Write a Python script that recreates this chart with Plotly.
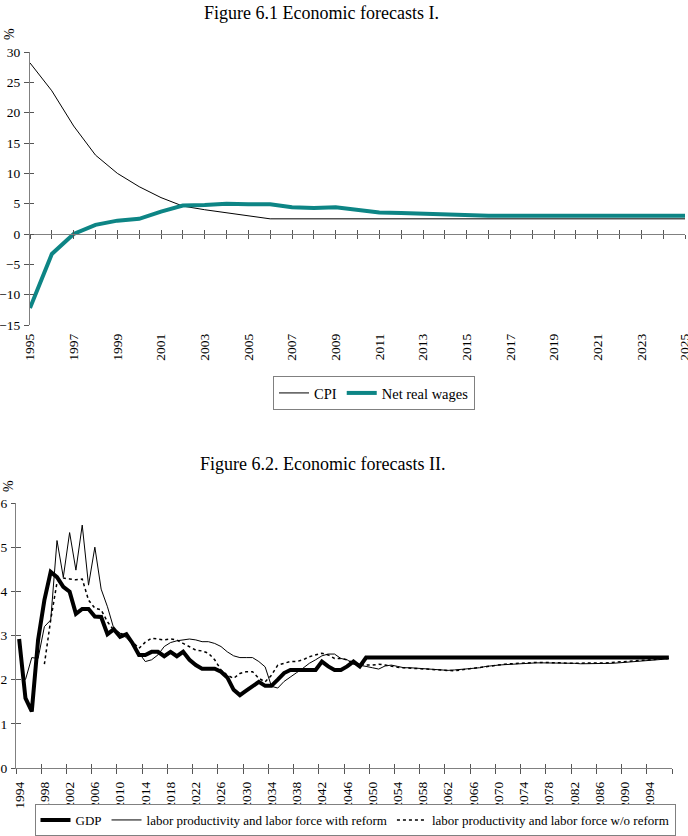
import plotly.graph_objects as go

# ---------------- data: Figure 6.1 ----------------
years1 = list(range(1995, 2026))
cpi = [28.2, 23.6, 17.8, 13.0, 10.0, 7.8, 6.0, 4.6, 4.0, 3.5,
       3.0, 2.5, 2.5, 2.5, 2.5, 2.5, 2.5, 2.5, 2.5, 2.5,
       2.5, 2.5, 2.5, 2.5, 2.5, 2.5, 2.5, 2.5, 2.5, 2.5, 2.5]
net_real_wages = [-12.2, -3.3, 0.0, 1.5, 2.2, 2.5, 3.7, 4.7, 4.8, 5.0,
                  4.9, 4.9, 4.4, 4.3, 4.4, 3.9, 3.55, 3.45, 3.35, 3.15,
                  3.0, 3.0, 3.0, 3.0, 3.0, 3.0, 3.0, 3.0, 3.0, 3.0, 3.0]
x1_labels = [str(y) for y in years1[::2]]
y1_ticks = [-15, -10, -5, 0, 5, 10, 15, 20, 25, 30]

# ---------------- data: Figure 6.2 ----------------
years2 = list(range(1994, 2098))
gdp = [2.92, 1.58, 1.28, 2.90, 3.80, 4.44, 4.32, 4.10, 3.99, 3.49,   # 1994-2003
       3.60, 3.60, 3.43, 3.42, 3.03, 3.14, 2.97, 3.03, 2.82, 2.56,   # 2004-2013
       2.56, 2.63, 2.63, 2.53, 2.63, 2.53, 2.63, 2.45, 2.33, 2.25,   # 2014-2023
       2.25, 2.25, 2.18, 2.05, 1.77, 1.65, 1.75, 1.85, 1.95, 1.86,   # 2024-2033
       1.86, 2.00, 2.15, 2.22, 2.22, 2.22, 2.22, 2.22, 2.41, 2.30,   # 2034-2043
       2.22, 2.22, 2.30, 2.41, 2.30, 2.50, 2.50, 2.50, 2.50, 2.50,   # 2044-2053
       2.50, 2.50, 2.50, 2.50, 2.50, 2.50, 2.50, 2.50, 2.50, 2.50,   # 2054-2063
       2.50, 2.50, 2.50, 2.50, 2.50, 2.50, 2.50, 2.50, 2.50, 2.50,   # 2064-2073
       2.50, 2.50, 2.50, 2.50, 2.50, 2.50, 2.50, 2.50, 2.50, 2.50,   # 2074-2083
       2.50, 2.50, 2.50, 2.50, 2.50, 2.50, 2.50, 2.50, 2.50, 2.50,   # 2084-2093
       2.50, 2.50, 2.50, 2.50]                                       # 2094-2097
with_reform = [None, 2.00, 2.50, 2.48, 3.20, 3.35, 5.15, 4.32, 5.33, 4.48,   # 1994-2003
               5.50, 4.14, 5.00, 4.05, 3.65, 3.16, 3.05, 2.95, 2.80, 2.60,   # 2004-2013
               2.41, 2.45, 2.56, 2.75, 2.84, 2.88, 2.90, 2.92, 2.90, 2.86,   # 2014-2023
               2.86, 2.82, 2.75, 2.63, 2.54, 2.50, 2.50, 2.50, 2.41, 2.29,   # 2024-2033
               1.85, 1.81, 1.96, 2.07, 2.16, 2.26, 2.37, 2.45, 2.54, 2.58,   # 2034-2043
               2.58, 2.48, 2.45, 2.35, 2.33, 2.30, 2.27, 2.24, 2.31, 2.33,   # 2044-2053
               2.30, 2.27, 2.27, 2.26, 2.26, 2.25, 2.24, 2.22, 2.21, 2.22,   # 2054-2063
               2.23, 2.25, 2.26, 2.27, 2.30, 2.32, 2.33, 2.34, 2.35, 2.36,   # 2064-2073
               2.37, 2.37, 2.38, 2.38, 2.38, 2.38, 2.37, 2.37, 2.37, 2.36,   # 2074-2083
               2.36, 2.36, 2.36, 2.37, 2.37, 2.38, 2.39, 2.40, 2.41, 2.42,   # 2084-2093
               2.43, 2.45, 2.46, 2.48]                                       # 2094-2097
without_reform = [None, None, None, None, 2.35, 3.35, 4.20, 4.30, 4.28, 4.26,   # 1994-2003
                  4.28, 3.80, 3.62, 3.58, 3.31, 3.12, 3.05, 3.00, 2.85, 2.71,   # 2004-2013
                  2.85, 2.94, 2.92, 2.90, 2.92, 2.90, 2.82, 2.75, 2.67, 2.65,   # 2014-2023
                  2.60, 2.45, 2.22, 2.10, 2.03, 2.14, 2.18, 2.18, 2.03, 1.95,   # 2024-2033
                  2.10, 2.33, 2.37, 2.41, 2.41, 2.45, 2.52, 2.56, 2.60, 2.56,   # 2034-2043
                  2.48, 2.48, 2.45, 2.38, 2.36, 2.33, 2.33, 2.35, 2.33, 2.30,   # 2044-2053
                  2.28, 2.27, 2.26, 2.25, 2.24, 2.23, 2.22, 2.21, 2.20, 2.20,   # 2054-2063
                  2.22, 2.24, 2.26, 2.28, 2.30, 2.32, 2.34, 2.35, 2.36, 2.37,   # 2064-2073
                  2.38, 2.38, 2.39, 2.39, 2.39, 2.38, 2.38, 2.37, 2.37, 2.37,   # 2074-2083
                  2.37, 2.37, 2.37, 2.38, 2.39, 2.40, 2.41, 2.42, 2.43, 2.44,   # 2084-2093
                  2.45, 2.46, 2.47, 2.48]                                       # 2094-2097
x2_label_years = list(range(1994, 2095, 4))
x2_tick_bounds = [y - 0.5 for y in range(1994, 2099, 4)]
y2_ticks = [0, 1, 2, 3, 4, 5, 6]

# ---------------- layout helpers ----------------
W, H = 688, 836
FONT = "Liberation Serif"
AX = "#808080"
TK = "#555555"
TEAL = "#0d8585"


def fx(p):
    return p / W


def fy(p):
    return 1 - p / H


fig = go.Figure()

# Figure 6.1 traces
fig.add_trace(go.Scatter(x=years1, y=cpi, name="CPI", mode="lines",
                         line=dict(color="black", width=1), legend="legend",
                         xaxis="x", yaxis="y"))
fig.add_trace(go.Scatter(x=years1, y=net_real_wages, name="Net real wages", mode="lines",
                         line=dict(color=TEAL, width=4), legend="legend",
                         xaxis="x", yaxis="y"))

# Figure 6.2 traces
fig.add_trace(go.Scatter(x=years2, y=with_reform,
                         name="labor productivity and labor force with reform", mode="lines",
                         line=dict(color="black", width=1), legend="legend2", legendrank=2,
                         xaxis="x2", yaxis="y2"))
fig.add_trace(go.Scatter(x=years2, y=without_reform,
                         name="labor productivity and labor force w/o reform", mode="lines",
                         line=dict(color="black", width=1.5, dash="dot"), legend="legend2",
                         legendrank=3, xaxis="x2", yaxis="y2"))
fig.add_trace(go.Scatter(x=years2, y=gdp, name="GDP", mode="lines",
                         line=dict(color="black", width=4), legend="legend2", legendrank=1,
                         xaxis="x2", yaxis="y2"))

# empty helper traces so that overlay axes (tick marks) are drawn
for xa, ya in [("x3", "y"), ("x4", "y"), ("x", "y3"),
               ("x5", "y2"), ("x6", "y2"), ("x2", "y4")]:
    fig.add_trace(go.Scatter(x=[], y=[], xaxis=xa, yaxis=ya, showlegend=False,
                             hoverinfo="skip", mode="lines"))

# geometry
y1_dom = [fy(325), fy(52)]
y1_range = [-15, 30]
zero_pos = y1_dom[0] + (0 - y1_range[0]) / (y1_range[1] - y1_range[0]) * (y1_dom[1] - y1_dom[0])
y2_dom = [fy(768), fy(503)]

common = dict(showgrid=False, zeroline=False, automargin=False)
xtickfont = dict(family=FONT, size=13.5, color="black")
ytickfont = dict(family=FONT, size=13.5, color="black")

fig.update_layout(
    width=W, height=H,
    margin=dict(l=0, r=0, t=0, b=0, autoexpand=False),
    paper_bgcolor="white", plot_bgcolor="white",
    font=dict(family=FONT, size=13, color="black"),
    # ---- chart 1 ----
    xaxis=dict(domain=[fx(30), fx(685)], range=[years1[0], years1[-1]], anchor="y",
               tickmode="array", tickvals=years1[::2], ticktext=x1_labels,
               tickangle=-90, ticks="", showline=False, ticklabelstandoff=5,
               ticklabeloverflow="allow", tickfont=xtickfont, **common),
    yaxis=dict(domain=y1_dom, range=y1_range, anchor="x", tickmode="array",
               tickvals=y1_ticks, ticks="outside", ticklen=5, tickcolor=TK,
               showline=True, linecolor=AX, linewidth=1, tickfont=ytickfont,
               ticklabelstandoff=1, ticklabeloverflow="allow", **common),
    yaxis3=dict(overlaying="y", range=y1_range, anchor="x", tickmode="array",
                tickvals=y1_ticks, ticks="inside", ticklen=4, tickcolor=TK,
                showticklabels=False, showline=False, **common),
    xaxis3=dict(overlaying="x", anchor="free", position=zero_pos,
                range=[years1[0], years1[-1]], tickmode="array", tickvals=years1,
                ticks="outside", ticklen=4, tickcolor=TK, tickwidth=1, showline=True,
                linecolor=AX, linewidth=1, showticklabels=False, **common),
    xaxis4=dict(overlaying="x", anchor="free", position=zero_pos,
                range=[years1[0], years1[-1]], tickmode="array", tickvals=years1,
                ticks="inside", ticklen=4, tickcolor=TK, tickwidth=1, showline=False,
                showticklabels=False, **common),
    # ---- chart 2 ----
    xaxis2=dict(domain=[fx(16), fx(672)], range=[1993.5, 2097.5], anchor="y2",
                tickmode="array", tickvals=x2_label_years,
                ticktext=[str(y) for y in x2_label_years], tickangle=-90, ticks="",
                showline=False, ticklabelstandoff=10, ticklabeloverflow="allow",
                tickfont=xtickfont, **common),
    yaxis2=dict(domain=y2_dom, range=[0, 6], anchor="x2", tickmode="array",
                tickvals=y2_ticks, ticks="outside", ticklen=4, tickcolor=TK,
                showline=True, linecolor=AX, linewidth=1, tickfont=ytickfont,
                ticklabelstandoff=1, ticklabeloverflow="allow", **common),
    yaxis4=dict(overlaying="y2", range=[0, 6], anchor="x2", tickmode="array",
                tickvals=y2_ticks, ticks="inside", ticklen=5, tickcolor=TK,
                showticklabels=False, showline=False, **common),
    xaxis5=dict(overlaying="x2", anchor="y2", range=[1993.5, 2097.5], tickmode="array",
                tickvals=x2_tick_bounds, ticks="outside", ticklen=5, tickcolor=TK,
                showline=True, linecolor=AX, linewidth=1, showticklabels=False, **common),
    xaxis6=dict(overlaying="x2", anchor="y2", range=[1993.5, 2097.5], tickmode="array",
                tickvals=x2_tick_bounds, ticks="inside", ticklen=4, tickcolor=TK,
                showline=False, showticklabels=False, **common),
    legend=dict(x=fx(374), y=fy(376), xanchor="center", yanchor="top",
                orientation="h", bordercolor=AX, borderwidth=1, bgcolor="white",
                font=dict(family=FONT, size=14.5, color="black"), itemwidth=30,
                tracegroupgap=0),
    legend2=dict(x=fx(355), y=0, xanchor="center", yanchor="bottom",
                 orientation="h", bordercolor=AX, borderwidth=1, bgcolor="white",
                 font=dict(family=FONT, size=13, color="black"), itemwidth=30,
                 tracegroupgap=0),
    annotations=[
        dict(text="Figure 6.1 Economic forecasts I.", x=fx(321), y=fy(13),
             xref="paper", yref="paper", showarrow=False, xanchor="center",
             yanchor="middle", font=dict(family=FONT, size=18, color="black")),
        dict(text="Figure 6.2. Economic forecasts II.", x=fx(322), y=fy(464),
             xref="paper", yref="paper", showarrow=False, xanchor="center",
             yanchor="middle", font=dict(family=FONT, size=18, color="black")),
        dict(text="%", x=fx(9), y=fy(34), xref="paper", yref="paper",
             showarrow=False, textangle=-90, xanchor="center", yanchor="middle",
             font=dict(family=FONT, size=14, color="black")),
        dict(text="%", x=fx(8), y=fy(486), xref="paper", yref="paper",
             showarrow=False, textangle=-90, xanchor="center", yanchor="middle",
             font=dict(family=FONT, size=14, color="black")),
    ],
    showlegend=True,
)

fig.write_html("out.html")
